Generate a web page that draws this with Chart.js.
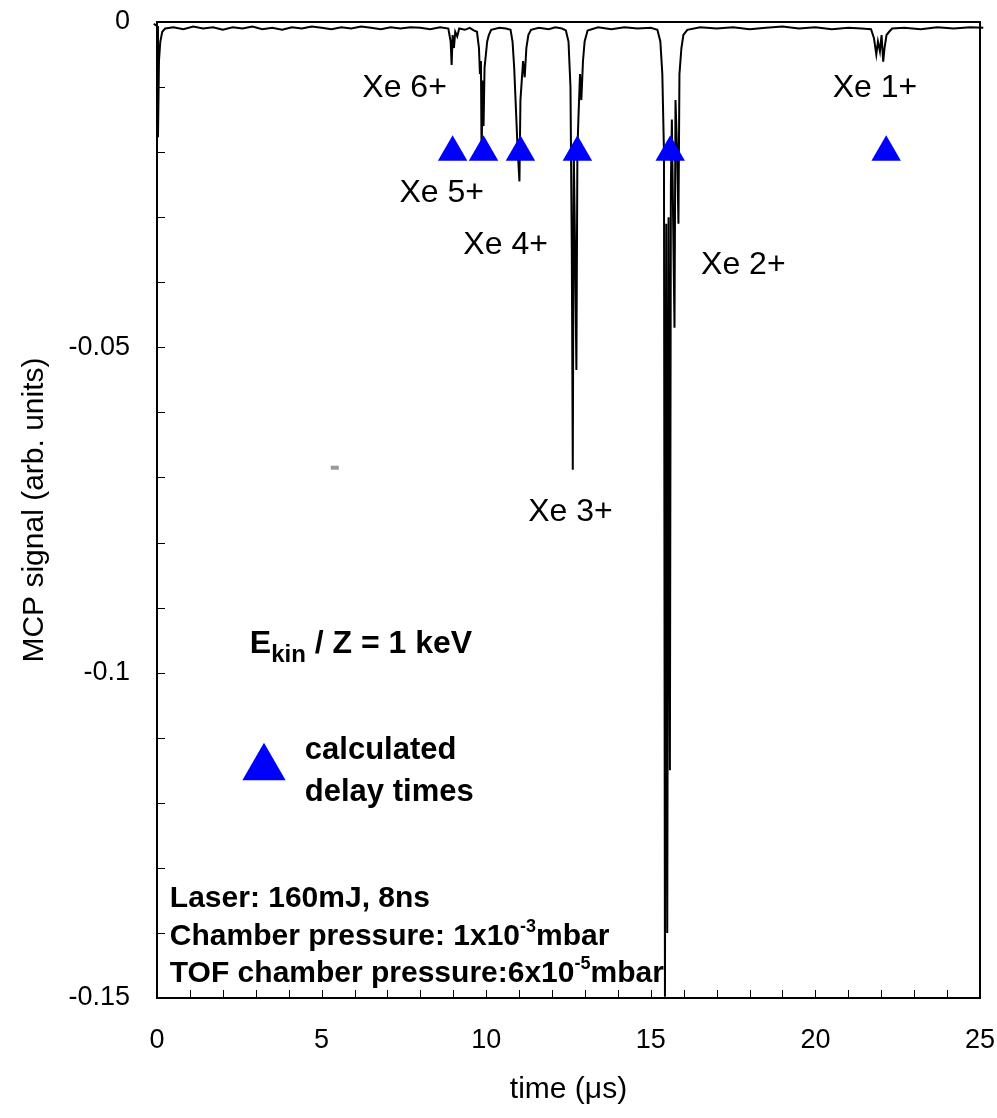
<!DOCTYPE html>
<html>
<head>
<meta charset="utf-8">
<script src="https://cdn.jsdelivr.net/npm/chart.js@4/dist/chart.umd.min.js"></script>
<style>
  html, body { margin: 0; padding: 0; background: #fff; }
  #wrap { width: 997px; height: 1118px; }
</style>
</head>
<body>
<div id="wrap"><canvas id="tof"></canvas></div>
<script>
// time of flight trace (µs, arb. units)
const timeUs = [
  -0.40, -0.25, -0.10, 0.00, 0.03, 0.06, 0.10, 0.16, 0.25, 0.5, 0.8, 1.1, 1.4, 1.7, 2.0, 2.3, 2.6, 2.9,
  3.2, 3.5, 3.8, 4.1, 4.4, 4.7, 5.0, 5.3, 5.6, 5.9, 6.2, 6.5, 6.8, 7.1, 7.4, 7.7, 8.0, 8.3, 8.6,
  8.85, 8.92, 8.95, 8.98, 9.02, 9.06, 9.12, 9.18, 9.35, 9.5, 9.62,
  9.72, 9.78, 9.81, 9.84, 9.86, 9.89, 9.92, 9.95, 9.99, 10.03, 10.08, 10.15, 10.4, 10.6,
  10.74, 10.80, 10.85, 10.90, 10.95, 11.01, 11.04, 11.08, 11.12, 11.17, 11.22, 11.28, 11.36,
  11.6, 11.9, 12.1, 12.3,
  12.42, 12.50, 12.56, 12.60, 12.63, 12.66, 12.70, 12.74, 12.77, 12.80, 12.85, 12.89, 12.94, 12.99, 13.08,
  13.4, 13.8, 14.2, 14.6, 15.0,
  15.20, 15.29, 15.35, 15.40, 15.43, 15.47, 15.50, 15.54, 15.58, 15.61, 15.64, 15.72, 15.75, 15.80,
  15.84, 15.87, 15.93, 15.99, 16.11,
  16.5, 17.0, 17.5, 18.0, 18.5, 19.0, 19.5, 20.0, 20.5, 21.0, 21.4,
  21.69, 21.78, 21.85, 21.90, 21.96, 22.01, 22.06, 22.10, 22.16, 22.24, 22.33,
  22.7, 23.2, 23.7, 24.2, 24.7, 25.1, 25.5
];
const mcpSignal = [
  -0.0003, -0.0004, -0.0003, -0.0006, -0.0177, -0.0060, -0.0030, -0.0015, -0.0010, -0.0008, -0.0011, -0.0007, -0.0010, -0.0008, -0.0012, -0.0008, -0.0010, -0.0007,
  -0.0011, -0.0009, -0.0012, -0.0008, -0.0010, -0.0007, -0.0009, -0.0011, -0.0008, -0.0010, -0.0007, -0.0009, -0.0011, -0.0008, -0.0010, -0.0008, -0.0009, -0.0011, -0.0008,
  -0.0010, -0.0030, -0.0066, -0.0020, -0.0040, -0.0015, -0.0022, -0.0010, -0.0012, -0.0009, -0.0013,
  -0.0015, -0.0040, -0.0080, -0.0060, -0.0210, -0.0090, -0.0160, -0.0070, -0.0050, -0.0030, -0.0020, -0.0012, -0.0009, -0.0010,
  -0.0012, -0.0030, -0.0070, -0.0130, -0.0190, -0.0245, -0.0120, -0.0090, -0.0060, -0.0085, -0.0040, -0.0020, -0.0012,
  -0.0009, -0.0011, -0.0008, -0.0010,
  -0.0013, -0.0030, -0.0100, -0.0350, -0.0688, -0.0200, -0.0350, -0.0535, -0.0200, -0.0150, -0.0080, -0.0120, -0.0060, -0.0030, -0.0013,
  -0.0008, -0.0011, -0.0008, -0.0010, -0.0009,
  -0.0012, -0.0030, -0.0080, -0.0200, -0.1498, -0.0310, -0.1400, -0.0300, -0.1150, -0.0250, -0.0150, -0.0470, -0.0120, -0.0200,
  -0.0310, -0.0080, -0.0040, -0.0020, -0.0012,
  -0.0008, -0.0010, -0.0008, -0.0011, -0.0009, -0.0007, -0.0010, -0.0008, -0.0011, -0.0009, -0.0010,
  -0.0011, -0.0025, -0.0050, -0.0030, -0.0045, -0.0020, -0.0061, -0.0040, -0.0020, -0.0015, -0.0010,
  -0.0009, -0.0011, -0.0008, -0.0010, -0.0008, -0.0009, -0.0010
];

// calculated delay times for Xe 6+ ... Xe 1+
const calcTimes = [8.98, 9.92, 11.04, 12.77, 15.59, 22.15];
const calcLevel = [-0.02, -0.02, -0.02, -0.02, -0.02, -0.02];

// stray grey mark in the original plot
const strayT = [5.4];
const strayV = [-0.0685];

// charge state labels and where they sit (data coords)
const ionLabels = ["Xe 6+", "Xe 5+", "Xe 4+", "Xe 3+", "Xe 2+", "Xe 1+"];
const ionLabelT = [7.52, 8.65, 10.59, 12.56, 17.81, 21.81];
const ionLabelV = [-0.0101, -0.0263, -0.0343, -0.0753, -0.0373, -0.0101];

const xTickLabels = [0, 5, 10, 15, 20, 25];
const yTickLabels = ["0", "-0.05", "-0.1", "-0.15"];

const FONT = '"Liberation Sans", Arial, sans-serif';

function xy(xs, ys) {
  return xs.map((x, i) => ({ x: x, y: ys[i] }));
}

// inward ticks, box frame and the text notes
const decoPlugin = {
  id: "deco",
  afterDatasetsDraw(chart) {
    const { ctx, chartArea: a, scales: { x, y } } = chart;
    ctx.save();

    // frame top + right
    ctx.strokeStyle = "#000";
    ctx.lineWidth = 2;
    ctx.beginPath();
    ctx.moveTo(a.left, a.top);
    ctx.lineTo(a.right, a.top);
    ctx.lineTo(a.right, a.bottom);
    ctx.stroke();

    // ticks pointing into the plot
    ctx.lineWidth = 1;
    ctx.beginPath();
    x.ticks.forEach((t) => {
      const px = Math.round(x.getPixelForValue(t.value)) + 0.5;
      ctx.moveTo(px, a.bottom);
      ctx.lineTo(px, a.bottom - 8);
    });
    y.ticks.forEach((t) => {
      const py = Math.round(y.getPixelForValue(t.value)) + 0.5;
      ctx.moveTo(a.left, py);
      ctx.lineTo(a.left + 8, py);
    });
    ctx.stroke();

    // ion labels
    ctx.fillStyle = "#000";
    ctx.font = "32px " + FONT;
    ctx.textAlign = "center";
    ctx.textBaseline = "middle";
    ionLabels.forEach((s, i) => {
      ctx.fillText(s, x.getPixelForValue(ionLabelT[i]), y.getPixelForValue(ionLabelV[i]));
    });

    ctx.textAlign = "left";
    ctx.textBaseline = "alphabetic";

    // E_kin / Z = 1 keV
    let px = x.getPixelForValue(2.82);
    let py = y.getPixelForValue(-0.097);
    ctx.font = "bold 32px " + FONT;
    ctx.fillText("E", px, py);
    px += ctx.measureText("E").width;
    ctx.font = "bold 24px " + FONT;
    ctx.fillText("kin", px, py + 9);
    px += ctx.measureText("kin").width;
    ctx.font = "bold 32px " + FONT;
    ctx.fillText(" / Z = 1 keV", px, py);

    // legend for the triangles
    const lx = x.getPixelForValue(3.25);
    const ly = y.getPixelForValue(-0.1146);
    const r = 25;
    ctx.fillStyle = "#0000ff";
    ctx.beginPath();
    ctx.moveTo(lx, ly - r);
    ctx.lineTo(lx + r * Math.sqrt(3) / 2, ly + r / 2);
    ctx.lineTo(lx - r * Math.sqrt(3) / 2, ly + r / 2);
    ctx.closePath();
    ctx.fill();
    ctx.fillStyle = "#000";
    ctx.font = "bold 31px " + FONT;
    ctx.fillText("calculated", x.getPixelForValue(4.49), y.getPixelForValue(-0.1133));
    ctx.fillText("delay times", x.getPixelForValue(4.49), y.getPixelForValue(-0.1197));

    // run conditions
    const lines = [
      ["Laser: 160mJ, 8ns", null, ""],
      ["Chamber pressure: 1x10", "-3", "mbar"],
      ["TOF chamber pressure:6x10", "-5", "mbar"]
    ];
    const lineV = [-0.136, -0.1418, -0.1475];
    lines.forEach((l, i) => {
      let cx = x.getPixelForValue(0.39);
      const cy = y.getPixelForValue(lineV[i]);
      ctx.font = "bold 30px " + FONT;
      ctx.fillText(l[0], cx, cy);
      cx += ctx.measureText(l[0]).width;
      if (l[1]) {
        ctx.font = "bold 18px " + FONT;
        ctx.fillText(l[1], cx, cy - 13);
        cx += ctx.measureText(l[1]).width;
        ctx.font = "bold 30px " + FONT;
        ctx.fillText(l[2], cx, cy);
      }
    });

    ctx.restore();
  }
};

new Chart(document.getElementById("tof"), {
  type: "scatter",
  data: {
    datasets: [
      {
        label: "calculated delay times",
        data: xy(calcTimes, calcLevel),
        pointStyle: "triangle",
        pointRadius: 17,
        pointHoverRadius: 17,
        backgroundColor: "#0000ff",
        borderWidth: 0,
        order: 0
      },
      {
        label: "MCP signal",
        data: xy(timeUs, mcpSignal),
        showLine: true,
        borderColor: "#000",
        borderWidth: 2,
        pointRadius: 0,
        tension: 0,
        clip: false,
        order: 1
      },
      {
        label: "mark",
        data: xy(strayT, strayV),
        pointStyle: "line",
        pointRadius: 4,
        borderColor: "#999",
        borderWidth: 4,
        order: 2
      }
    ]
  },
  options: {
    responsive: true,
    maintainAspectRatio: false,
    animation: false,
    layout: { padding: { left: 0, top: 22, right: 16, bottom: 0 } },
    plugins: {
      legend: { display: false },
      tooltip: { enabled: false }
    },
    scales: {
      x: {
        type: "linear",
        min: 0,
        max: 25,
        afterFit: (s) => {
          s.height = 120;
          s.paddingLeft = 0;
          s.paddingRight = 0;
        },
        grid: { display: false, drawTicks: false },
        border: { display: true, color: "#000", width: 2 },
        ticks: {
          stepSize: 1,
          autoSkip: false,
          maxRotation: 0,
          padding: 26,
          color: "#000",
          font: { family: FONT, size: 27 },
          callback: (v) => (xTickLabels.includes(v) ? String(v) : "")
        },
        title: {
          display: true,
          text: "time (μs)",
          color: "#000",
          font: { family: FONT, size: 30 },
          padding: { top: 0, bottom: 10 }
        }
      },
      y: {
        type: "linear",
        min: -0.15,
        max: 0,
        afterFit: (s) => {
          s.width = 157;
          s.paddingTop = 0;
          s.paddingBottom = 0;
        },
        grid: { display: false, drawTicks: false },
        border: { display: true, color: "#000", width: 2 },
        ticks: {
          stepSize: 0.01,
          autoSkip: false,
          padding: 27,
          color: "#000",
          font: { family: FONT, size: 27 },
          callback: (v) => {
            const k = Math.round(-v * 100);
            return k % 5 === 0 ? yTickLabels[k / 5] : "";
          }
        },
        title: {
          display: true,
          text: "MCP signal (arb. units)",
          color: "#000",
          font: { family: FONT, size: 30 },
          padding: { top: 17, bottom: 0 }
        }
      }
    }
  },
  plugins: [decoPlugin]
});
</script>
</body>
</html>
